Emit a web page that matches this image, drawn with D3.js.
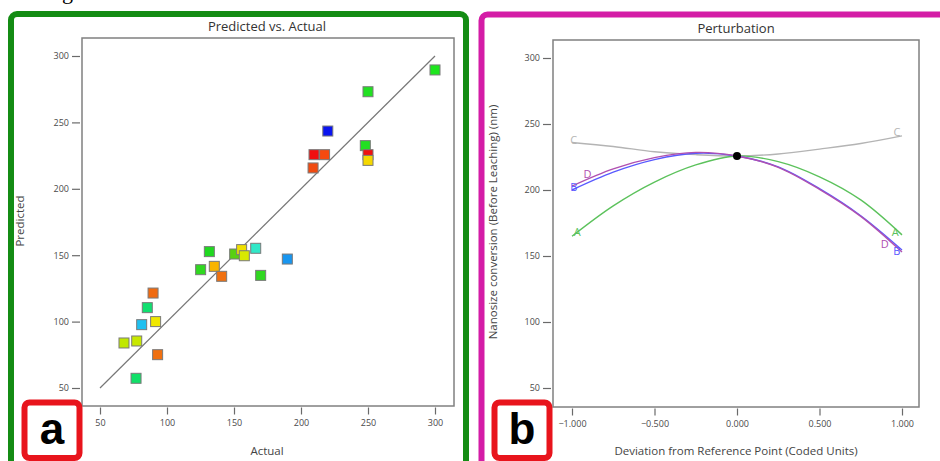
<!DOCTYPE html>
<html>
<head>
<meta charset="utf-8">
<script src="https://cdn.jsdelivr.net/npm/d3@7/dist/d3.min.js"></script>
<style>
    body { margin: 0; background: #fff; }
    svg { display: block; font-family: "Open Sans", "Noto Sans", sans-serif; }
</style>
</head>
<body>
<svg id="fig" width="940" height="461"></svg>
<script>
// panel a: predicted vs actual
var actual = [300, 250, 220, 248, 209.7, 217.6, 250, 250, 209, 131.6, 150.5, 155.7, 157.7, 166.2, 189.8,
    125.1, 135.3, 140.8, 169.9, 89.6, 85.3, 81.1, 91.5, 67.9, 77.4, 93, 76.9];
var predicted = [289.5, 273.1, 243.5, 232.5, 225.7, 225.7, 225.7, 221.4, 215.7, 152.7, 150.9, 154.2, 149.6, 155.2, 147.1,
    139.1, 141.6, 134.1, 134.8, 121.5, 110.5, 97.7, 100, 83.9, 85.4, 75.1, 57.3];
var pointColors = ["#1ee61e", "#22e022", "#0a14f0", "#22e022", "#f01010", "#f54a10", "#f01010", "#f5d800", "#f04a10",
    "#20d820", "#58d010", "#f0e000", "#d8e800", "#30e8c8", "#1896f0",
    "#30d820", "#f8b400", "#f07010", "#30d820", "#f06a10", "#10e070", "#20c0f0", "#f0e800", "#c0e800", "#c8e800", "#f07010", "#10e068"];
var ticksA = [50, 100, 150, 200, 250, 300];

// panel b: perturbation
var deviation = [-1, -0.75, -0.5, -0.25, 0, 0.25, 0.5, 0.75, 1];
var curveA = [165, 188, 206, 219, 225.8, 221.5, 210, 192.5, 166];
var curveB = [200, 213.5, 223, 227.8, 225.8, 217.5, 201, 180.5, 154.5];
var curveC = [236, 233, 229, 226.8, 225.8, 227.3, 231, 235.2, 241];
var curveD = [203, 216, 224.5, 228.5, 225.8, 217.2, 200.5, 180, 153];
var factorNames = ["A", "B", "C", "D"];
var factorColors = ["#5cc25c", "#5a5aff", "#b4b4b4", "#b050b0"];
var ticksBx = [-1, -0.5, 0, 0.5, 1];
var ticksBy = [50, 100, 150, 200, 250, 300];

var svg = d3.select("#fig");

// caption fragment cut off at the top
svg.append("text")
    .attr("x", 73).attr("y", -1)
    .attr("text-anchor", "end")
    .style("font-family", "'Liberation Serif', serif")
    .style("font-size", "22px")
    .text("Fig");

// panel borders
svg.append("rect")
    .attr("x", 11).attr("y", 14).attr("width", 455).attr("height", 480)
    .attr("rx", 6)
    .attr("fill", "none").attr("stroke", "#148c14").attr("stroke-width", 6);
svg.append("rect")
    .attr("x", 481.5).attr("y", 14.5).attr("width", 500).attr("height", 480)
    .attr("rx", 6)
    .attr("fill", "none").attr("stroke", "#d41ca6").attr("stroke-width", 6);

var drawAxes = function (g, x, y, frame, xTicks, yTicks, xFmt) {
    "use strict";
    var xAxis, yAxis;
    g.append("rect")
        .attr("x", frame.left).attr("y", frame.top)
        .attr("width", frame.right - frame.left).attr("height", frame.bottom - frame.top)
        .attr("fill", "none").attr("stroke", "#808080").attr("stroke-width", 1.5);

    xAxis = g.append("g")
        .attr("transform", "translate(0," + (frame.bottom + 1.5) + ")")
        .call(d3.axisBottom(x).tickValues(xTicks).tickSize(7).tickPadding(5).tickFormat(xFmt));
    yAxis = g.append("g")
        .attr("transform", "translate(" + (frame.left - 2) + ",0)")
        .call(d3.axisLeft(y).tickValues(yTicks).tickSize(8).tickPadding(3));

    [xAxis, yAxis].forEach(function (a) {
        a.select(".domain").remove();
        a.selectAll("line").attr("stroke", "#6a6a6a").attr("stroke-width", 1.2);
        a.selectAll("text")
            .attr("fill", "#4a4a4a")
            .style("font-family", "'Open Sans', sans-serif")
            .style("font-size", "9px");
    });
};

var addLabels = function (g, cx, cyLabel, title, xLabel, yLabel, yLabelX, titleY) {
    "use strict";
    g.append("text")
        .attr("x", cx).attr("y", titleY)
        .attr("text-anchor", "middle")
        .attr("fill", "#333")
        .style("font-size", "13px")
        .text(title);
    g.append("text")
        .attr("x", cx).attr("y", 455)
        .attr("text-anchor", "middle")
        .attr("fill", "#444")
        .style("font-size", "11.5px")
        .text(xLabel);
    g.append("text")
        .attr("transform", "translate(" + yLabelX + "," + cyLabel + ") rotate(-90)")
        .attr("text-anchor", "middle")
        .attr("fill", "#444")
        .style("font-size", "11.5px")
        .text(yLabel);
};

var tagBox = function (x, letter) {
    "use strict";
    svg.append("rect")
        .attr("x", x).attr("y", 402.5).attr("width", 55).attr("height", 55.5)
        .attr("rx", 5)
        .attr("fill", "#fff").attr("stroke", "#e8141c").attr("stroke-width", 6);
    svg.append("text")
        .attr("x", x + 27.5).attr("y", 444)
        .attr("text-anchor", "middle")
        .style("font-family", "'Liberation Sans', Arial, sans-serif")
        .style("font-weight", "bold")
        .style("font-size", "44px")
        .attr("fill", "#000")
        .text(letter);
};

// ---------- panel a ----------
(function () {
    "use strict";
    var frame, x, y, g, pts;
    frame = {left: 82, right: 454, top: 38, bottom: 406};
    x = d3.scaleLinear().domain([50, 300]).range([100, 435]);
    y = d3.scaleLinear().domain([50, 300]).range([388, 56]);
    g = svg.append("g");

    drawAxes(g, x, y, frame, ticksA, ticksA, d3.format("d"));

    g.append("line")
        .attr("x1", x(50)).attr("y1", y(50))
        .attr("x2", x(300)).attr("y2", y(300))
        .attr("stroke", "#777").attr("stroke-width", 1.2);

    pts = actual.map(function (a, i) {
        return {a: a, p: predicted[i], c: pointColors[i]};
    });
    g.selectAll("rect.pt")
        .data(pts)
        .enter().append("rect")
        .attr("class", "pt")
        .attr("x", function (d) { return x(d.a) - 5; })
        .attr("y", function (d) { return y(d.p) - 5; })
        .attr("width", 10).attr("height", 10)
        .attr("fill", function (d) { return d.c; })
        .attr("stroke", "#7a7a7a").attr("stroke-width", 1);

    addLabels(g, 267, 221, "Predicted vs. Actual", "Actual", "Predicted", 24, 31);
    tagBox(24.5, "a");
}());

// ---------- panel b ----------
(function () {
    "use strict";
    var frame, x, y, g, line, series;
    frame = {left: 553, right: 919, top: 40, bottom: 407};
    x = d3.scaleLinear().domain([-1, 1]).range([572, 902]);
    y = d3.scaleLinear().domain([50, 300]).range([388, 58]);
    g = svg.append("g");

    drawAxes(g, x, y, frame, ticksBx, ticksBy, d3.format(".3f"));

    line = d3.line()
        .x(function (d) { return x(d[0]); })
        .y(function (d) { return y(d[1]); })
        .curve(d3.curveCatmullRom.alpha(0.5));

    series = [curveC, curveA, curveB, curveD].map(function (vals, k) {
        var idx = [2, 0, 1, 3][k];
        return {
            name: factorNames[idx],
            color: factorColors[idx],
            pts: deviation.map(function (dv, i) { return [dv, vals[i]]; })
        };
    });

    g.selectAll("path.curve")
        .data(series)
        .enter().append("path")
        .attr("class", "curve")
        .attr("d", function (d) { return line(d.pts); })
        .attr("fill", "none")
        .attr("stroke", function (d) { return d.color; })
        .attr("stroke-width", 1.4);

    // end letters
    var labelPos = {
        A: [[-0.99, 168, "start"], [0.98, 168, "end"]],
        B: [[-1.01, 202, "start"], [0.99, 154, "end"]],
        C: [[-1.01, 238, "start"], [0.99, 244, "end"]],
        D: [[-0.93, 212, "start"], [0.92, 159, "end"]]
    };
    series.forEach(function (s) {
        labelPos[s.name].forEach(function (p) {
            g.append("text")
                .attr("x", x(p[0])).attr("y", y(p[1]))
                .attr("text-anchor", p[2])
                .attr("dy", "0.35em")
                .attr("fill", s.color)
                .style("font-size", "11px")
                .text(s.name);
        });
    });

    g.append("circle")
        .attr("cx", x(0)).attr("cy", y(225.8)).attr("r", 4)
        .attr("fill", "#000");

    addLabels(g, 736, 222, "Perturbation", "Deviation from Reference Point (Coded Units)",
        "Nanosize conversion (Before Leaching) (nm)", 497, 33);
    tagBox(494.5, "b");
}());
</script>
</body>
</html>
